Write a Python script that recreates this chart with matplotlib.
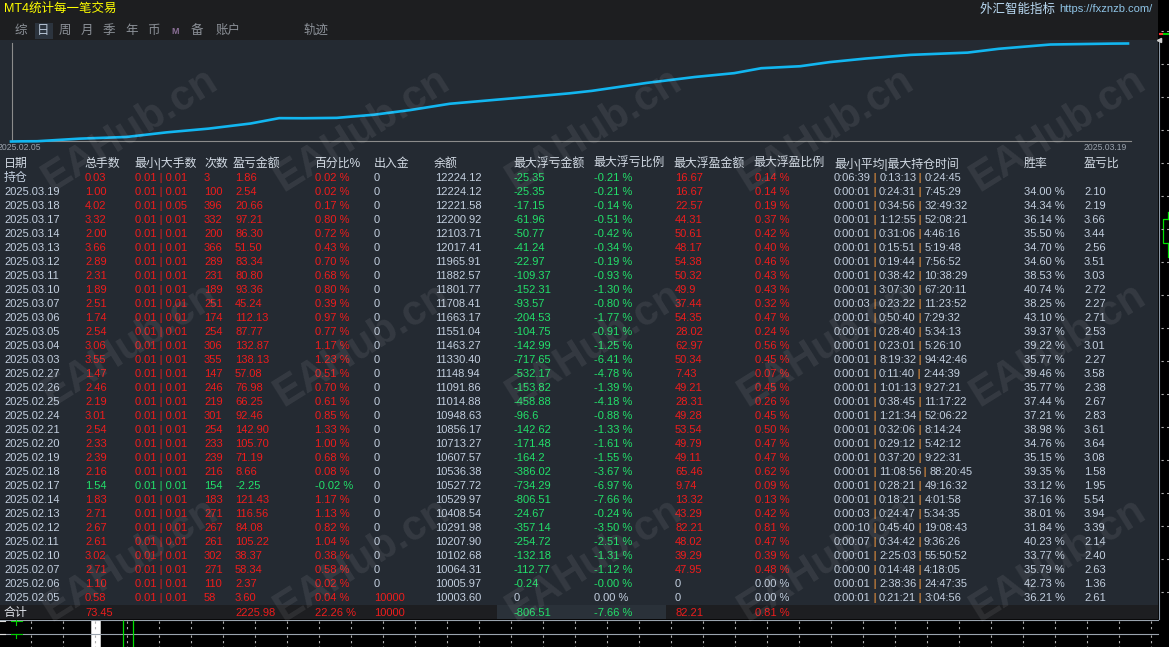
import math
import numpy as np
import matplotlib
matplotlib.use("Agg")
import matplotlib.pyplot as plt
from matplotlib.patches import Rectangle

plt.rcParams['font.family'] = ['Liberation Sans', 'Noto Sans CJK SC', 'DejaVu Sans']

W, H = 1169, 647

# ---- daily rows, newest first ----
dates = ["2025.03.19", "2025.03.18", "2025.03.17", "2025.03.14", "2025.03.13", "2025.03.12",
         "2025.03.11", "2025.03.10", "2025.03.07", "2025.03.06", "2025.03.05", "2025.03.04",
         "2025.03.03", "2025.02.27", "2025.02.26", "2025.02.25", "2025.02.24", "2025.02.21",
         "2025.02.20", "2025.02.19", "2025.02.18", "2025.02.17", "2025.02.14", "2025.02.13",
         "2025.02.12", "2025.02.11", "2025.02.10", "2025.02.07", "2025.02.06", "2025.02.05"]
lots = [1.00, 4.02, 3.32, 2.00, 3.66, 2.89, 2.31, 1.89, 2.51, 1.74, 2.54, 3.06, 3.55, 1.47, 2.46,
        2.19, 3.01, 2.54, 2.33, 2.39, 2.16, 1.54, 1.83, 2.71, 2.67, 2.61, 3.02, 2.71, 1.10, 0.58]
min_lot = [0.01] * 30
max_lot = [0.01, 0.05] + [0.01] * 28
trades = [100, 396, 332, 200, 366, 289, 231, 189, 251, 174, 254, 306, 355, 147, 246,
          219, 301, 254, 233, 239, 216, 154, 183, 271, 267, 261, 302, 271, 110, 58]
profit = [2.54, 20.66, 97.21, 86.30, 51.50, 83.34, 80.80, 93.36, 45.24, 112.13, 87.77, 132.87,
          138.13, 57.08, 76.98, 66.25, 92.46, 142.90, 105.70, 71.19, 8.66, -2.25, 121.43, 116.56,
          84.08, 105.22, 38.37, 58.34, 2.37, 3.60]
profit_pct = [0.02, 0.17, 0.80, 0.72, 0.43, 0.70, 0.68, 0.80, 0.39, 0.97, 0.77, 1.17, 1.23, 0.51,
              0.70, 0.61, 0.85, 1.33, 1.00, 0.68, 0.08, -0.02, 1.17, 1.13, 0.82, 1.04, 0.38, 0.58,
              0.02, 0.04]
deposit = [0] * 29 + [10000]
balance = [12224.12, 12221.58, 12200.92, 12103.71, 12017.41, 11965.91, 11882.57, 11801.77,
           11708.41, 11663.17, 11551.04, 11463.27, 11330.40, 11148.94, 11091.86, 11014.88,
           10948.63, 10856.17, 10713.27, 10607.57, 10536.38, 10527.72, 10529.97, 10408.54,
           10291.98, 10207.90, 10102.68, 10064.31, 10005.97, 10003.60]
max_dd = [-25.35, -17.15, -61.96, -50.77, -41.24, -22.97, -109.37, -152.31, -93.57, -204.53,
          -104.75, -142.99, -717.65, -532.17, -153.82, -458.88, -96.6, -142.62, -171.48, -164.2,
          -386.02, -734.29, -806.51, -24.67, -357.14, -254.72, -132.18, -112.77, -0.24, 0.0]
max_dd_pct = [-0.21, -0.14, -0.51, -0.42, -0.34, -0.19, -0.93, -1.30, -0.80, -1.77, -0.91, -1.25,
              -6.41, -4.78, -1.39, -4.18, -0.88, -1.33, -1.61, -1.55, -3.67, -6.97, -7.66, -0.24,
              -3.50, -2.51, -1.31, -1.12, -0.0, 0.0]
max_fp = [16.67, 22.57, 44.31, 50.61, 48.17, 54.38, 50.32, 49.9, 37.44, 54.35, 28.02, 62.97,
          50.34, 7.43, 49.21, 28.31, 49.28, 53.54, 49.79, 49.11, 65.46, 9.74, 13.32, 43.29, 82.21,
          48.02, 39.29, 47.95, 0.0, 0.0]
max_fp_pct = [0.14, 0.19, 0.37, 0.42, 0.40, 0.46, 0.43, 0.43, 0.32, 0.47, 0.24, 0.56, 0.45, 0.07,
              0.45, 0.26, 0.45, 0.50, 0.47, 0.47, 0.62, 0.09, 0.13, 0.42, 0.81, 0.47, 0.39, 0.48,
              0.00, 0.00]
hold_min = ["0:00:01", "0:00:01", "0:00:01", "0:00:01", "0:00:01", "0:00:01", "0:00:01", "0:00:01",
            "0:00:03", "0:00:01", "0:00:01", "0:00:01", "0:00:01", "0:00:01", "0:00:01", "0:00:01",
            "0:00:01", "0:00:01", "0:00:01", "0:00:01", "0:00:01", "0:00:01", "0:00:01", "0:00:03",
            "0:00:10", "0:00:07", "0:00:01", "0:00:00", "0:00:01", "0:00:01"]
hold_avg = ["0:24:31", "0:34:56", "1:12:55", "0:31:06", "0:15:51", "0:19:44", "0:38:42", "3:07:30",
            "0:23:22", "0:50:40", "0:28:40", "0:23:01", "8:19:32", "0:11:40", "1:01:13", "0:38:45",
            "1:21:34", "0:32:06", "0:29:12", "0:37:20", "11:08:56", "0:28:21", "0:18:21", "0:24:47",
            "0:45:40", "0:34:42", "2:25:03", "0:14:48", "2:38:36", "0:21:21"]
hold_max = ["7:45:29", "32:49:32", "52:08:21", "4:46:16", "5:19:48", "7:56:52", "10:38:29",
            "67:20:11", "11:23:52", "7:29:32", "5:34:13", "5:26:10", "94:42:46", "2:44:39",
            "9:27:21", "11:17:22", "52:06:22", "8:14:24", "5:42:12", "9:22:31", "88:20:45",
            "49:16:32", "4:01:58", "5:34:35", "19:08:43", "9:36:26", "55:50:52", "4:18:05",
            "24:47:35", "3:04:56"]
win_rate = [34.00, 34.34, 36.14, 35.50, 34.70, 34.60, 38.53, 40.74, 38.25, 43.10, 39.37, 39.22,
            35.77, 39.46, 35.77, 37.44, 37.21, 38.98, 34.76, 35.15, 39.35, 33.12, 37.16, 38.01,
            31.84, 40.23, 33.77, 35.79, 42.73, 36.21]
pl_ratio = [2.10, 2.19, 3.66, 3.44, 2.56, 3.51, 3.03, 2.72, 2.27, 2.71, 2.53, 3.01, 2.27, 3.58,
            2.38, 2.67, 2.83, 3.61, 3.64, 3.08, 1.58, 1.95, 5.54, 3.94, 3.39, 2.14, 2.40, 2.63,
            1.36, 2.61]

# ---- open positions row (持仓) ----
open_lots, open_min, open_max, open_trades = 0.03, 0.01, 0.01, 3
open_profit, open_pct, open_deposit, open_balance = 1.86, 0.02, 0, 12224.12
open_dd, open_dd_pct, open_fp, open_fp_pct = -25.35, -0.21, 16.67, 0.14
open_hold = ["0:06:39", "0:13:13", "0:24:45"]

# ---- totals row (合计) ----
tot_lots, tot_profit, tot_pct, tot_deposit = 73.45, 2225.98, 22.26, 10000
tot_dd, tot_dd_pct, tot_fp, tot_fp_pct = -806.51, -7.66, 82.21, 0.81

headers = ["日期", "总手数", "最小|大手数", "次数", "盈亏金额", "百分比%", "出入金", "余额",
           "最大浮亏金额", "最大浮亏比例", "最大浮盈金额", "最大浮盈比例", "最小|平均|最大持仓时间",
           "胜率", "盈亏比"]
tabs = ["综", "日", "周", "月", "季", "年", "币", "M", "备", "账户", "轨迹"]

# ---- colours / layout ----
RED = '#ee1c1c'
GREEN = '#22e06a'
LABEL = '#c3cfdf'
PIPE = '#c8813a'
PANEL = '#242a32'
TOPBAR = '#1d1e20'
SUMROW = '#1d1e21'
col_x = [4, 85, 135, 204, 235, 315, 374, 435, 514, 594, 675, 755, 834, 1024, 1084]
head_x = [4, 84, 134, 204, 233, 314, 374, 434, 513, 593, 673, 753, 834, 1024, 1084]
FS = 8.0
HFS = 8.6
ROW = 14


def val_color(v):
    if v > 0:
        return RED
    if v < 0 or math.copysign(1.0, v) < 0:
        return GREEN
    return LABEL


fig = plt.figure(figsize=(W / 100, H / 100), dpi=100)
fig.patch.set_facecolor('black')
ax = fig.add_axes([0, 0, 1, 1])
ax.set_xlim(0, W)
ax.set_ylim(H, 0)
ax.axis('off')

# backgrounds
ax.add_patch(Rectangle((0, 0), 1158, 40, color=TOPBAR, lw=0))
ax.add_patch(Rectangle((0, 40), 1158, 565, color=PANEL, lw=0))
ax.add_patch(Rectangle((0, 605), 1158, 14, color=SUMROW, lw=0))
ax.add_patch(Rectangle((497, 605), 169, 14, color='#2a3139', lw=0))
ax.plot([1158.5, 1158.5], [40, 619], color='#8a96a4', lw=0.8)
ax.plot([0, 1158], [619.5, 619.5], color='#9aa3ad', lw=0.8)
ax.plot([0, 1158], [633.5, 633.5], color='#9aa3ad', lw=0.8)

# title bar
ax.text(4, 9, "MT4统计每一笔交易", color='#ffff00', fontsize=9, va='center', ha='left')
t = ax.text(1152, 9.5, "https://fxznzb.com/", color='#8fc4e6', fontsize=8, va='center', ha='right')
ax.annotate("外汇智能指标 ", xy=(0, 0.5), xycoords=t, color='#b9d9f2', fontsize=9,
            va='center', ha='right')

# tabs
tab_x = [15, 37, 59, 81, 103, 125, 147, 171, 191, 216, 303]
ax.add_patch(Rectangle((35, 23), 18, 16, color='#2c343e', lw=0))
for tx, name in zip(tab_x, tabs):
    if name == "M":
        ax.text(tx, 31, name, color='#8a6f96', fontsize=6.5, fontweight='bold', va='center')
    else:
        ax.text(tx, 31, name, color='#b8c6d6' if name == "日" else '#8c9198',
                fontsize=9, va='center')

# equity chart frame
ax.plot([11.5, 11.5], [43, 141], color='#8c8c8c', lw=0.8)
ax.plot([11, 1131], [141, 141], color='#8c8c8c', lw=0.8)
ax.text(-2, 147.5, dates[-1], color='#9aa2ac', fontsize=6.2, va='center', ha='left')
ax.text(1127, 147.5, dates[0], color='#9aa2ac', fontsize=6.2, va='center', ha='right')

# equity curve: balance against cumulative trade count
chron_bal = [balance[-1] - profit[-1]] + balance[::-1] + [open_balance]
chron_x = np.concatenate([[0], np.cumsum(trades[::-1]), [sum(trades) + open_trades]])
eq = fig.add_axes([11 / W, 1 - 141.5 / H, 1117 / W, 98 / H])
eq.patch.set_alpha(0)
eq.axis('off')
eq.plot(chron_x, chron_bal, color='#12b6f0', lw=1.9, clip_on=False)
eq.set_xlim(0, chron_x[-1])
eq.set_ylim(min(chron_bal), max(chron_bal))

# header
for hx, name in zip(head_x, headers):
    ax.text(hx, 164, name, color='#d2dae4', fontsize=HFS, va='center', ha='left')


def put_times(x, y, parts):
    prev = ax.text(x, y, parts[0], color=LABEL, fontsize=FS, va='center', ha='left')
    for p in parts[1:]:
        sep = ax.annotate(" | ", xy=(1, 0.5), xycoords=prev, color=PIPE, fontsize=FS - 0.8,
                          va='center', ha='left', fontweight='bold')
        prev = ax.annotate(p, xy=(1, 0.5), xycoords=sep, color=LABEL, fontsize=FS,
                           va='center', ha='left')


def put_row(y, first, lt, mn, mx, n, pnl, pct, dep, bal, dd, ddp, fp, fpp, hold, win, plr,
            first_size=FS):
    pc = val_color(pnl)
    cells = [
        (first, LABEL),
        (f"{lt:.2f}", pc),
        (f"{mn:.2f} | {mx:.2f}", pc),
        (f"{n}", pc),
        (f"{pnl:.2f}", pc),
        (f"{pct:.2f} %", pc),
        (f"{dep}", RED if dep > 0 else LABEL),
        (f"{bal:.2f}", LABEL),
        (f"{dd:g}", val_color(dd)),
        (f"{ddp:.2f} %", val_color(ddp)),
        (f"{fp:g}", val_color(fp)),
        (f"{fpp:.2f} %", val_color(fpp)),
    ]
    for i, (s, c) in enumerate(cells):
        ax.text(col_x[i], y, s, color=c, fontsize=first_size if i == 0 else FS,
                va='center', ha='left')
    put_times(col_x[12], y, hold)
    if win is not None:
        ax.text(col_x[13], y, f"{win:.2f} %", color=LABEL, fontsize=FS, va='center')
        ax.text(col_x[14], y, f"{plr:.2f}", color=LABEL, fontsize=FS, va='center')


put_row(178.3, "持仓", open_lots, open_min, open_max, open_trades, open_profit, open_pct,
        open_deposit, open_balance, open_dd, open_dd_pct, open_fp, open_fp_pct, open_hold,
        None, None, first_size=HFS)

for i in range(len(dates)):
    y = 192 + i * ROW
    put_row(y, dates[i], lots[i], min_lot[i], max_lot[i], trades[i], profit[i], profit_pct[i],
            deposit[i], balance[i], max_dd[i], max_dd_pct[i], max_fp[i], max_fp_pct[i],
            [hold_min[i], hold_avg[i], hold_max[i]], win_rate[i], pl_ratio[i])

# totals
ys = 612.7
ax.text(col_x[0], ys, "合计", color='#e0e4ea', fontsize=HFS, va='center')
ax.text(col_x[1], ys, f"{tot_lots:.2f}", color=RED, fontsize=FS, va='center')
ax.text(col_x[4], ys, f"{tot_profit:.2f}", color=RED, fontsize=FS, va='center')
ax.text(col_x[5], ys, f"{tot_pct:.2f} %", color=RED, fontsize=FS, va='center')
ax.text(col_x[6], ys, f"{tot_deposit}", color=RED, fontsize=FS, va='center')
ax.text(col_x[8], ys, f"{tot_dd:g}", color=GREEN, fontsize=FS, va='center')
ax.text(col_x[9], ys, f"{tot_dd_pct:.2f} %", color=GREEN, fontsize=FS, va='center')
ax.text(col_x[10], ys, f"{tot_fp:g}", color=RED, fontsize=FS, va='center')
ax.text(col_x[11], ys, f"{tot_fp_pct:.2f} %", color=RED, fontsize=FS, va='center')

# bottom strip of the terminal
grid_x = np.arange(31, 1158, 32)
ax.vlines(grid_x, 621, 632, colors='#b0b0b0', linestyles=(0, (2, 3)), lw=0.8)
ax.vlines(grid_x, 635, 647, colors='#b0b0b0', linestyles=(0, (2, 3)), lw=0.8)
ax.add_patch(Rectangle((91, 619.5), 9, 28, facecolor='white', edgecolor='#cccccc', lw=0.6))
ax.vlines([122.6, 132.6], 619.5, 647, colors='#00e000', lw=0.9)
ax.plot([0, 5], [621, 621], color='#dddddd', lw=0.8)
ax.plot([11, 22], [621, 621], color='#00d000', lw=0.8)
ax.plot([16, 16], [619.5, 625], color='#00d000', lw=0.8)
ax.plot([0, 5], [634, 634], color='#dddddd', lw=0.8)
ax.plot([11, 22], [634, 634], color='#00d000', lw=0.8)
ax.plot([16, 16], [633.5, 638], color='#00d000', lw=0.8)

# right price-scale strip
tick_y = np.arange(30.5, 620, 33)
ax.hlines(tick_y, 1161, 1169, colors='#b0b0b0', linestyles=(0, (2, 3)), lw=0.8)
ax.add_patch(Rectangle((1162.5, 219), 10, 24, facecolor='none', edgecolor='#00e000', lw=0.9))
ax.plot([1167.5, 1167.5], [212, 219], color='#00e000', lw=0.9)
ax.plot([1167.5, 1167.5], [243, 257], color='#00e000', lw=0.9)
ax.plot([1160, 1163], [34, 34], color='#ff3030', lw=1.5)
ax.plot([1164, 1169], [34, 34], color='#00d000', lw=1.5)
ax.plot([1158.5], [40], marker='<', color='#cfcfcf', ms=3)

# watermark
for wy in [130, 345, 560]:
    for wx in [130, 362, 594, 826, 1058]:
        fig.text(wx / W, 1 - wy / H, "EAHub.cn", rotation=32, fontsize=30, fontweight='bold',
                 color='white', alpha=0.08, ha='center', va='center',
                 family=['Liberation Sans'])

fig.savefig('out.png', dpi=100, facecolor=fig.get_facecolor())
plt.close(fig)
